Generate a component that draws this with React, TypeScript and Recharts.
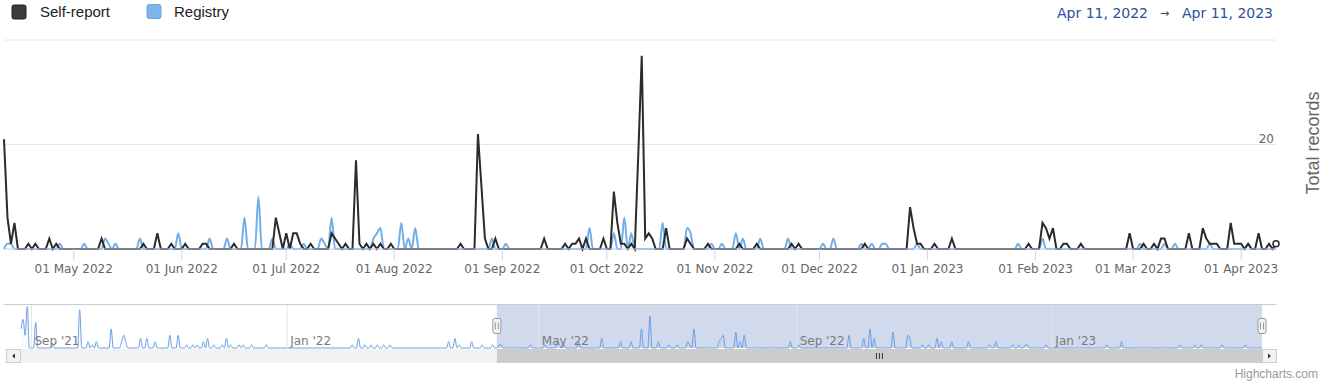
import React from "react";
import {
  LineChart,
  Line,
  AreaChart,
  Area,
  XAxis,
  YAxis,
  CartesianGrid,
  ReferenceArea,
  ReferenceLine,
} from "recharts";

// Daily counts, Apr 11 2022 -> Apr 11 2023, one row per calendar month (first row starts Apr 11)
const selfReport = [
  [21, 6, 1, 5, 0, 0, 0, 1, 0, 1, 0, 0, 0, 2, 0, 1, 0, 0, 0, 0],
  [0, 0, 0, 0, 0, 0, 0, 0, 2, 0, 0, 0, 0, 0, 0, 0, 0, 0, 0, 0, 1, 0, 0, 0, 3, 0, 0, 0, 1, 0, 0],
  [0, 1, 0, 0, 0, 0, 1, 1, 0, 0, 0, 0, 0, 0, 0, 1, 0, 0, 0, 0, 0, 0, 0, 0, 0, 0, 0, 6, 3, 0],
  [3, 0, 3, 3, 1, 0, 0, 1, 0, 0, 0, 0, 0, 3, 2, 1, 0, 1, 0, 0, 17, 1, 0, 1, 0, 1, 0, 1, 0, 0, 1],
  [0, 0, 0, 0, 0, 0, 0, 0, 0, 0, 0, 0, 0, 0, 0, 0, 0, 0, 0, 1, 0, 0, 0, 0, 22, 12, 2, 0, 0, 2, 0],
  [0, 0, 0, 0, 0, 0, 0, 0, 0, 0, 0, 0, 2, 0, 0, 0, 0, 0, 1, 0, 1, 1, 2, 0, 2, 0, 0, 0, 0, 2],
  [0, 0, 11, 5, 1, 1, 0, 1, 0, 18, 37, 2, 3, 2, 0, 0, 0, 4, 0, 0, 0, 0, 0, 2, 1, 0, 0, 0, 0, 1, 0],
  [0, 0, 0, 0, 0, 0, 0, 1, 0, 0, 0, 0, 1, 0, 0, 0, 0, 0, 0, 0, 0, 0, 1, 0, 1, 0, 0, 0, 0, 0],
  [0, 0, 0, 0, 0, 0, 0, 0, 0, 0, 0, 0, 0, 1, 0, 0, 0, 0, 0, 0, 0, 0, 0, 0, 0, 0, 8, 4, 1, 1, 0],
  [0, 0, 1, 0, 0, 0, 0, 2, 0, 0, 0, 0, 0, 0, 0, 0, 0, 0, 0, 0, 0, 0, 0, 0, 0, 0, 0, 0, 0, 1, 0],
  [0, 0, 5, 4, 2, 4, 0, 0, 1, 1, 0, 0, 0, 1, 0, 0, 0, 0, 0, 0, 0, 0, 0, 0, 0, 0, 0, 3],
  [0, 0, 0, 1, 0, 0, 1, 0, 2, 2, 0, 0, 0, 0, 0, 0, 3, 0, 0, 0, 4, 2, 1, 1, 1, 0, 0, 0, 5, 1, 1],
  [1, 0, 1, 0, 0, 3, 0, 0, 1, 0, 1],
];

const registry = [
  [0, 1, 1, 0, 0, 0, 0, 0, 0, 0, 0, 0, 0, 0, 0, 0, 1, 0, 0, 0],
  [0, 0, 0, 1, 0, 0, 0, 0, 0, 2, 1, 0, 1, 0, 0, 0, 0, 0, 0, 2, 0, 0, 0, 0, 0, 0, 0, 0, 0, 0, 3],
  [0, 0, 0, 0, 0, 0, 0, 0, 2, 0, 0, 0, 0, 2, 0, 0, 0, 0, 6, 0, 0, 0, 10, 0, 0, 0, 2, 0, 0, 0],
  [0, 1, 0, 0, 0, 1, 0, 0, 0, 0, 2, 1, 0, 6, 0, 0, 0, 0, 0, 0, 0, 0, 0, 0, 0, 2, 3, 4, 0, 0, 0],
  [0, 0, 5, 0, 2, 0, 4, 0, 0, 0, 0, 0, 0, 0, 0, 0, 0, 0, 0, 0, 0, 0, 0, 0, 0, 0, 0, 0, 2, 0, 0],
  [0, 1, 0, 0, 0, 0, 0, 0, 0, 0, 0, 0, 0, 0, 0, 0, 0, 0, 0, 0, 0, 0, 0, 0, 0, 4, 0, 0, 0, 0],
  [0, 0, 3, 0, 0, 6, 0, 3, 0, 0, 0, 0, 0, 0, 0, 0, 5, 0, 0, 0, 0, 0, 0, 4, 3, 0, 0, 0, 0, 0, 1],
  [0, 0, 1, 0, 0, 0, 3, 0, 2, 0, 0, 0, 0, 2, 0, 0, 0, 0, 0, 0, 0, 2, 0, 0, 0, 0, 0, 0, 0, 0],
  [0, 1, 0, 0, 2, 0, 0, 0, 0, 0, 0, 0, 1, 0, 0, 1, 0, 0, 1, 1, 0, 0, 0, 0, 0, 0, 0, 0, 1, 0, 0],
  [0, 0, 0, 0, 0, 0, 0, 0, 0, 0, 0, 0, 0, 0, 0, 0, 0, 0, 0, 0, 0, 0, 0, 0, 0, 0, 1, 0, 0, 0, 0],
  [0, 0, 2, 0, 0, 0, 0, 0, 0, 0, 0, 0, 0, 0, 0, 0, 0, 0, 0, 0, 0, 0, 0, 0, 0, 0, 0, 0],
  [0, 0, 1, 0, 0, 0, 0, 0, 0, 1, 0, 0, 1, 0, 0, 0, 0, 0, 0, 0, 0, 0, 1, 0, 0, 0, 0, 0, 0, 0, 0],
  [0, 0, 1, 0, 0, 0, 0, 0, 0, 0, 0],
];

// Registry before the selected range (only seen in the navigator), Aug 27 2021 -> Apr 10 2022
const registryEarlier = [
  [6, 9, 4, 13, 0],
  [0, 0, 8, 0, 0, 0, 0, 0, 0, 0, 1, 0, 0, 0, 0, 0, 0, 0, 0, 0, 0, 0, 0, 12, 0, 0, 0, 2, 0, 1],
  [0, 2, 0, 0, 0, 0, 0, 0, 6, 0, 0, 0, 0, 2, 4, 2, 0, 0, 0, 0, 0, 0, 3, 0, 0, 3, 0, 0, 0, 2, 0],
  [0, 0, 0, 0, 0, 4, 0, 0, 0, 4, 0, 0, 0, 1, 0, 0, 1, 0, 1, 0, 0, 2, 0, 3, 0, 0, 1, 0, 0, 0],
  [1, 0, 3, 0, 1, 0, 0, 0, 1, 0, 1, 0, 0, 0, 1, 0, 0, 0, 0, 0, 0, 1, 0, 0, 0, 0, 0, 0, 0, 0, 0],
  [0, 0, 0, 0, 0, 0, 0, 0, 0, 0, 0, 0, 0, 0, 0, 0, 0, 0, 0, 0, 0, 0, 0, 0, 0, 0, 0, 0, 0, 0, 0],
  [1, 0, 0, 3, 0, 0, 1, 0, 0, 1, 0, 0, 1, 0, 0, 1, 0, 0, 1, 0, 0, 0, 0, 0, 0, 0, 0, 0],
  [0, 0, 0, 0, 0, 0, 0, 0, 0, 0, 0, 0, 0, 0, 0, 0, 0, 0, 2, 0, 0, 3, 0, 1, 0, 0, 0, 0, 0, 2, 0],
  [0, 0, 0, 1, 0, 0, 0, 0, 1, 0],
];

// labels for month rows 1..12 of the shown range
const mainTickLabels = [
  "01 May 2022", "01 Jun 2022", "01 Jul 2022", "01 Aug 2022", "01 Sep 2022", "01 Oct 2022",
  "01 Nov 2022", "01 Dec 2022", "01 Jan 2023", "01 Feb 2023", "01 Mar 2023", "01 Apr 2023",
];
// navigator labels and the month row (early rows followed by shown rows) they start
const navTickLabels = ["Sep '21", "Jan '22", "May '22", "Sep '22", "Jan '23"];
const navTickRows = [1, 5, 10, 14, 18];

const yTicks = [0, 20, 40];
const yLabelled = 20;
const rangeFrom = "Apr 11, 2022";
const rangeTo = "Apr 11, 2023";

const SELF_COLOR = "#2b2b2b";
const REG_COLOR = "#74aee9";

const rowStarts = (rows: number[][]) => {
  const out: number[] = [];
  let acc = 0;
  rows.forEach((r) => {
    out.push(acc);
    acc += r.length;
  });
  return out;
};

const selfFlat = selfReport.flat();
const regFlat = registry.flat();
const mainData = selfFlat.map((v, i) => ({ d: i, self: v, reg: regFlat[i] }));
const lastIdx = mainData.length - 1;

const mainStarts = rowStarts(selfReport);
const mainTicks = mainStarts.slice(1);
const mainTickMap = new Map(mainTicks.map((t, i) => [t, mainTickLabels[i]]));

const navRows = [...registryEarlier, ...registry];
const navFlat = navRows.flat();
const navData = navFlat.map((v, i) => ({ n: i, v }));
const navStarts = rowStarts(navRows);
const navTicks = navTickRows.map((r) => navStarts[r]);
const selStart = registryEarlier.flat().length;
const navLast = navData.length - 1;

const NAV_LEFT = 21;
const NAV_RIGHT = 1262;
const navX = (n: number) => NAV_LEFT + (n * (NAV_RIGHT - NAV_LEFT)) / navLast;

function Handle(props: any) {
  const { x1, y1, y2 } = props;
  const cy = (y1 + y2) / 2;
  return (
    <g>
      <rect x={x1 - 4} y={cy - 8} width={8} height={15} rx={2} fill="#f2f2f2" stroke="#999" />
      <line x1={x1 - 1.5} x2={x1 - 1.5} y1={cy - 4} y2={cy + 3} stroke="#999" />
      <line x1={x1 + 1.5} x2={x1 + 1.5} y1={cy - 4} y2={cy + 3} stroke="#999" />
    </g>
  );
}

function Scrollbar() {
  const y = 349;
  const h = 14;
  const from = navX(selStart);
  const to = navX(navLast);
  const mid = (from + to) / 2;
  return (
    <g>
      <rect x={NAV_LEFT} y={y} width={NAV_RIGHT - NAV_LEFT} height={h} fill="#f2f2f2" />
      <rect x={from} y={y} width={to - from} height={h} fill="#cccccc" />
      {[-3, 0, 3].map((o) => (
        <line key={o} x1={mid + o} x2={mid + o} y1={y + 4} y2={y + 10} stroke="#333" />
      ))}
      <rect x={NAV_LEFT - 14.5} y={y + 0.5} width={14} height={h - 1} fill="#f2f2f2" stroke="#ccc" />
      <path d={`M ${NAV_LEFT - 6} ${y + 4.5} L ${NAV_LEFT - 6} ${y + 9.5} L ${NAV_LEFT - 9} ${y + 7} Z`} fill="#333" />
      <rect x={NAV_RIGHT + 0.5} y={y + 0.5} width={14} height={h - 1} fill="#f2f2f2" stroke="#ccc" />
      <path d={`M ${NAV_RIGHT + 6} ${y + 4.5} L ${NAV_RIGHT + 6} ${y + 9.5} L ${NAV_RIGHT + 9} ${y + 7} Z`} fill="#333" />
    </g>
  );
}

export default function App() {
  return (
    <div style={{ position: "absolute", left: 0, top: 0, width: 1325, height: 385, background: "#fff" }}>
      <div style={{ position: "absolute", left: 0, top: 0 }}>
        <LineChart width={1325} height={290} data={mainData} margin={{ top: 40, right: 49, bottom: 11, left: 4 }}>
          <CartesianGrid vertical={false} stroke="#e6e6e6" />
          <XAxis
            dataKey="d"
            type="number"
            domain={[0, lastIdx]}
            ticks={mainTicks}
            interval={0}
            tickFormatter={(v: number) => mainTickMap.get(v) ?? ""}
            tickSize={11}
            tickMargin={4}
            height={30}
            stroke="#ccd6eb"
            tick={{ fill: "#666", fontSize: 12, fontFamily: "DejaVu Sans" }}
          />
          <YAxis hide domain={[0, 40]} ticks={yTicks} />
          <ReferenceLine
            y={yLabelled}
            stroke="none"
            label={{
              value: String(yLabelled),
              position: "insideBottomRight",
              offset: 2,
              fill: "#666",
              fontSize: 12,
              fontFamily: "DejaVu Sans",
            }}
          />
          <Line dataKey="reg" type="monotone" stroke={REG_COLOR} strokeWidth={2} dot={false} isAnimationActive={false} />
          <Line
            dataKey="self"
            type="linear"
            stroke={SELF_COLOR}
            strokeWidth={2}
            isAnimationActive={false}
            dot={(p: any) =>
              p.index === lastIdx ? (
                <circle key="last" cx={p.cx} cy={p.cy} r={3} fill="#fff" stroke={SELF_COLOR} strokeWidth={1.5} />
              ) : (
                <g key={p.index} />
              )
            }
          />
        </LineChart>
      </div>

      <div style={{ position: "absolute", left: 0, top: 295 }}>
        <AreaChart width={1325} height={60} data={navData} margin={{ top: 10, right: 1325 - NAV_RIGHT, bottom: 7, left: NAV_LEFT }}>
          <XAxis dataKey="n" type="number" domain={[0, navLast]} hide />
          <YAxis hide domain={[0, 13.5]} />
          {navTicks.map((t, i) => (
            <ReferenceLine
              key={t}
              x={t}
              stroke="#e6e6e6"
              label={{
                value: navTickLabels[i],
                position: "insideBottomLeft",
                offset: 3,
                fill: "#7a7a7a",
                fontSize: 12,
                fontFamily: "DejaVu Sans",
              }}
            />
          ))}
          <ReferenceArea x1={selStart} x2={navLast} fill="rgb(102,133,194)" fillOpacity={0.3} stroke="none" />
          <Area
            dataKey="v"
            type="monotone"
            stroke="#6b9ee6"
            strokeWidth={1}
            fill="#6b9ee6"
            fillOpacity={0.05}
            dot={false}
            isAnimationActive={false}
          />
          <ReferenceLine x={selStart} stroke="none" shape={(p: any) => <Handle {...p} />} />
          <ReferenceLine x={navLast} stroke="none" shape={(p: any) => <Handle {...p} />} />
        </AreaChart>
      </div>

      <svg width={1325} height={385} style={{ position: "absolute", left: 0, top: 0, pointerEvents: "none" }}>
        <rect x={12} y={5} width={14} height={14} rx={2} fill="#3b3b3b" stroke="#1f1f1f" />
        <text x={40} y={17} fontSize={15} fontFamily="Liberation Sans" fill="#222">Self-report</text>
        <rect x={147} y={4.5} width={14} height={14} rx={2} fill="#7cb5ec" stroke="#6aa6e6" />
        <text x={174} y={17} fontSize={15} fontFamily="Liberation Sans" fill="#222">Registry</text>

        <text x={1057} y={18} fontSize={14} fontFamily="DejaVu Sans" fill="#2d4f9e">{rangeFrom}</text>
        <text x={1160} y={17} fontSize={11} fontFamily="DejaVu Sans" fill="#444">→</text>
        <text x={1182} y={18} fontSize={14} fontFamily="DejaVu Sans" fill="#2d4f9e">{rangeTo}</text>

        <text
          x={1313}
          y={143}
          transform="rotate(-90 1313 143)"
          textAnchor="middle"
          dominantBaseline="central"
          fontSize={18}
          fontFamily="Liberation Sans"
          fill="#666"
        >
          Total records
        </text>

        <line x1={4} x2={1276} y1={304.5} y2={304.5} stroke="#cccccc" />
        <Scrollbar />

        <text x={1318} y={378} textAnchor="end" fontSize={12} fontFamily="Liberation Sans" fill="#999">
          Highcharts.com
        </text>
      </svg>
    </div>
  );
}
